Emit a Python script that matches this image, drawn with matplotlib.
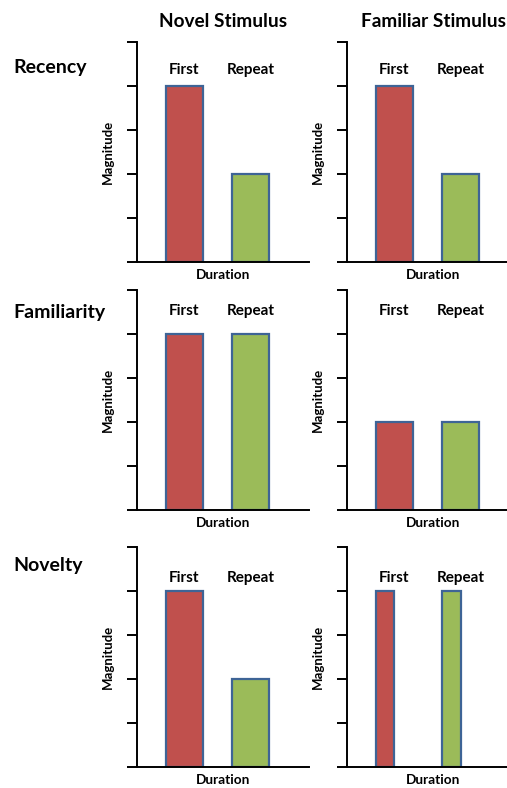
import matplotlib
matplotlib.use("Agg")
import matplotlib.pyplot as plt

plt.rcParams['font.family'] = ['Lato', 'DejaVu Sans']

# column / row headers
columns = ["Novel Stimulus", "Familiar Stimulus"]
rows = ["Recency", "Familiarity", "Novelty"]
categories = ["First", "Repeat"]

# bar heights per panel (row, column)
recency_novel = [4, 2]
recency_familiar = [4, 2]
familiarity_novel = [4, 4]
familiarity_familiar = [2, 2]
novelty_novel = [4, 2]
novelty_familiar = [4, 4]

# bar widths (novelty/familiar uses thin bars)
wide = [1.0, 1.0]
thin = [0.5, 0.5]

panels = [
    [(recency_novel, wide), (recency_familiar, wide)],
    [(familiarity_novel, wide), (familiarity_familiar, wide)],
    [(novelty_novel, wide), (novelty_familiar, thin)],
]
label_y = [4.36, 4.52, 4.3]

colors = ["#C0504D", "#9BBB59"]
edge = "#3E6496"

W, H = 507, 788
fig = plt.figure(figsize=(W / 100, H / 100), dpi=100)

axes_left = [137, 347]
axes_bottom = [262, 510, 767]
aw, ah = 172, 220
bar_left = [0.78, 2.57]
bar_center = [1.28, 3.07]

for r in range(3):
    for c in range(2):
        ax = fig.add_axes([axes_left[c] / W, 1 - axes_bottom[r] / H, aw / W, ah / H])
        vals, widths = panels[r][c]
        ax.bar(bar_left, vals, width=widths, align="edge", color=colors,
               edgecolor=edge, linewidth=1.6, zorder=2)
        ax.set_xlim(0, aw / 37)
        ax.set_ylim(0, 5)
        ax.set_yticks(range(6))
        ax.set_yticklabels([])
        ax.set_xticks([])
        ax.tick_params(axis="y", direction="out", length=7.2, width=1.4, color="black")
        for s in ["top", "right"]:
            ax.spines[s].set_visible(False)
        for s in ["left", "bottom"]:
            ax.spines[s].set_linewidth(1.4)
        ax.spines["bottom"].set_zorder(3)
        for i, cat in enumerate(categories):
            ax.text(bar_center[i], label_y[r], cat, ha="center", va="center",
                    fontsize=11, fontweight="bold")
        ax.set_ylabel("Magnitude", fontsize=9.5, fontweight="bold", labelpad=6)
        ax.set_xlabel("Duration", fontsize=9.8, fontweight="bold", labelpad=5)
        if r == 0:
            ax.set_title(columns[c], fontsize=13.7, fontweight="bold", pad=11)

row_label_y = [68, 312, 565]
for r in range(3):
    fig.text(13 / W, 1 - row_label_y[r] / H, rows[r], ha="left", va="center",
             fontsize=14, fontweight="bold")

fig.savefig("out.png", dpi=100)
